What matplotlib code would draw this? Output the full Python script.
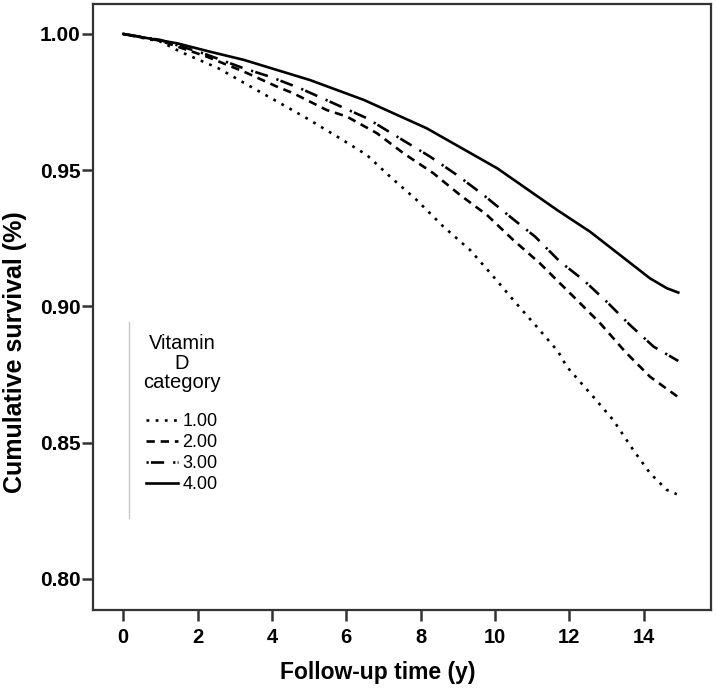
import matplotlib
matplotlib.use("Agg")
import matplotlib.pyplot as plt
from matplotlib.lines import Line2D

plt.rcParams['font.family'] = ['Liberation Sans', 'DejaVu Sans']
plt.rcParams['lines.scale_dashes'] = False

# ---- data ----
t1 = [0, 1.0, 1.53, 2.56, 3.5, 4.22, 4.93, 5.83, 6.55, 7.18, 7.89, 8.61, 9.33, 9.96,
      10.49, 11.12, 11.7, 11.93, 12.64, 13.18, 13.72, 14.17, 14.62, 14.89]
s1 = [1.000, 0.9972, 0.9935, 0.9874, 0.9801, 0.9746, 0.9691, 0.9617, 0.9556, 0.9476,
      0.9391, 0.9293, 0.9207, 0.9109, 0.9024, 0.8926, 0.8834, 0.8779, 0.8669, 0.8583,
      0.8473, 0.8388, 0.8327, 0.8311]

t2 = [0, 1.0, 2.24, 3.24, 4.13, 4.58, 5.47, 6.01, 6.82, 7.54, 8.34, 9.06, 9.78, 10.49,
      11.21, 11.57, 12.2, 12.83, 13.5, 14.17, 14.93]
s2 = [1.000, 0.9975, 0.9917, 0.9862, 0.9807, 0.9782, 0.9721, 0.9697, 0.9636, 0.9562,
      0.9489, 0.9409, 0.9336, 0.9244, 0.9158, 0.9109, 0.9024, 0.8938, 0.8834, 0.8742,
      0.8667]

t3 = [0, 1.0, 2.15, 3.24, 3.95, 4.75, 5.65, 6.55, 7.44, 8.25, 8.97, 9.69, 10.4, 11.08,
      11.75, 12.38, 13.0, 13.63, 14.27, 14.93]
s3 = [1.000, 0.9978, 0.9929, 0.9874, 0.9843, 0.9801, 0.9746, 0.9691, 0.9617, 0.9550,
      0.9483, 0.9409, 0.9330, 0.9256, 0.9164, 0.9097, 0.9018, 0.8932, 0.8852, 0.8800]

t4 = [0, 1.44, 2.33, 3.24, 4.13, 5.02, 6.47, 8.16, 10.06, 11.67, 12.56, 14.17, 14.62, 14.93]
s4 = [1.000, 0.9966, 0.9935, 0.9905, 0.9868, 0.9831, 0.9758, 0.9654, 0.9507, 0.9354,
      0.9274, 0.9103, 0.9067, 0.9051]

labels = ['1.00', '2.00', '3.00', '4.00']
xticks = [0, 2, 4, 6, 8, 10, 12, 14]
yticks = [0.80, 0.85, 0.90, 0.95, 1.00]
ytick_labels = ['0.80', '0.85', '0.90', '0.95', '1.00']

# ---- figure ----
W, H = 717, 689
fig = plt.figure(figsize=(W / 100, H / 100), dpi=100)
ax = fig.add_axes([93 / W, 1 - 610 / H, (711 - 93) / W, (610 - 4) / H])

lw = 1.9
ax.plot(t1, s1, color='black', lw=lw, linestyle=(0, (2.0, 4.6)), label=labels[0])
ax.plot(t2, s2, color='black', lw=lw, linestyle=(0, (6.0, 4.2)), label=labels[1])
ax.plot(t3, s3, color='black', lw=lw, linestyle=(0, (1.6, 1.6, 9.5, 6.5)), label=labels[2])
ax.plot(t4, s4, color='black', lw=lw, linestyle='-', label=labels[3])

ax.set_xlim(-0.815, 15.81)
ax.set_ylim(0.7886, 1.011)
ax.set_xticks(xticks)
ax.set_xticklabels([str(v) for v in xticks])
ax.set_yticks(yticks)
ax.set_yticklabels(ytick_labels)

spine_col = '#333333'
for s in ax.spines.values():
    s.set_color(spine_col)
    s.set_linewidth(1.6)

ax.tick_params(axis='both', direction='out', length=8, width=1.8, color=spine_col)
ax.tick_params(axis='x', labelsize=14.5, pad=5)
ax.tick_params(axis='y', labelsize=15, pad=1)
for lab in ax.get_xticklabels() + ax.get_yticklabels():
    lab.set_fontweight('bold')

ax.set_xlabel('Follow-up time (y)', fontsize=16.5, fontweight='bold')
ax.xaxis.set_label_coords((378 - 93) / (711 - 93), -(673 - 610) / (610 - 4), transform=ax.transAxes)
ax.xaxis.label.set_va('center')
ax.set_ylabel('Cumulative survival (%)', fontsize=18, fontweight='bold')
ax.yaxis.set_label_coords(-(93 - 15) / (711 - 93), (610 - 352) / (610 - 4), transform=ax.transAxes)
ax.yaxis.label.set_va('center')

leg = ax.legend(title='Vitamin\nD\ncategory', loc='upper left',
                bbox_to_anchor=(143 / W, 1 - 334 / H), bbox_transform=fig.transFigure,
                frameon=False, fontsize=13, title_fontsize=14.5,
                handlelength=1.75, handletextpad=0.25, labelspacing=0.22,
                borderpad=0, borderaxespad=0, alignment='center')
leg.get_title().set_linespacing(1.05)
leg.get_title().set_multialignment('center')
leg._legend_box.sep = 15

fig.add_artist(Line2D([129 / W, 129 / W], [1 - 322 / H, 1 - 518 / H],
                      transform=fig.transFigure, color='#c8c8c8', lw=1.0))

fig.savefig('out.png', dpi=100)
